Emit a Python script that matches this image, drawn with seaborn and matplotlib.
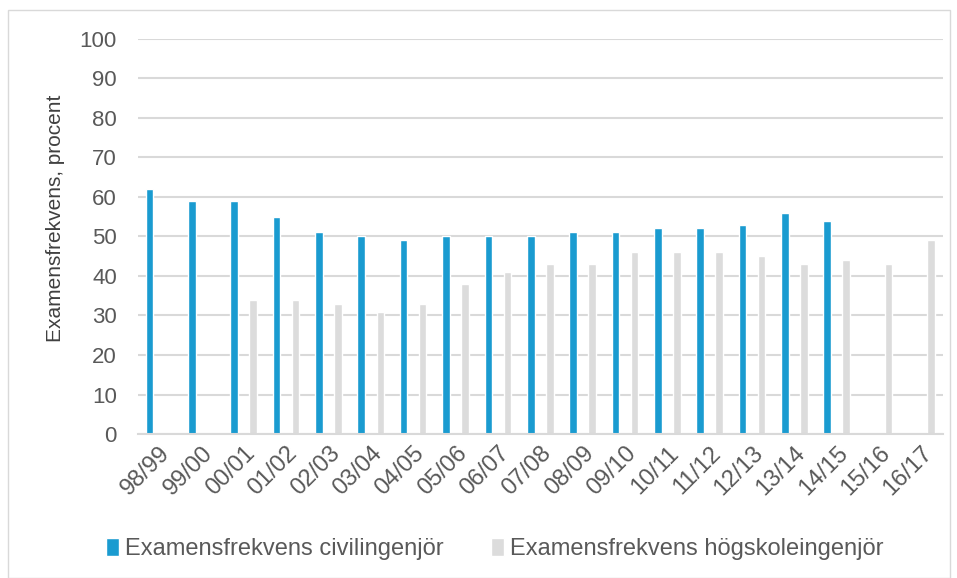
import matplotlib
matplotlib.use("Agg")
import matplotlib.pyplot as plt
from matplotlib.patches import Rectangle
import seaborn as sns
import numpy as np
import pandas as pd

# Data
years = ["98/99", "99/00", "00/01", "01/02", "02/03", "03/04", "04/05", "05/06", "06/07",
         "07/08", "08/09", "09/10", "10/11", "11/12", "12/13", "13/14", "14/15", "15/16", "16/17"]
civil = [62, 59, 59, 55, 51, 50, 49, 50, 50, 50, 51, 51, 52, 52, 53, 56, 54, np.nan, np.nan]
hogskole = [np.nan, np.nan, 34, 34, 33, 31, 33, 38, 41, 43, 43, 46, 46, 46, 45, 43, 44, 43, 49]
series = ["Examensfrekvens civilingenjör", "Examensfrekvens högskoleingenjör"]
colors = ["#1a9bd0", "#dcdcdc"]

df = pd.DataFrame({
    "year": years * 2,
    "value": civil + hogskole,
    "serie": [series[0]] * len(years) + [series[1]] * len(years),
})

sns.set_style("white")
plt.rcParams["font.family"] = ["Liberation Sans", "DejaVu Sans"]

fig = plt.figure(figsize=(9.57, 5.78), dpi=100)
ax = fig.add_axes([0.144, 0.249, 0.841, 0.684])

sns.barplot(data=df, x="year", y="value", hue="serie", order=years, hue_order=series,
            palette=colors, width=0.9, gap=0.6, saturation=1, ax=ax, legend=True)

ax.set_ylim(0, 100)
ax.set_yticks(range(0, 101, 10))
ax.set_xlim(-0.5, len(years) - 0.5)
ax.yaxis.grid(True, color="#d9d9d9", linewidth=1.5)
ax.set_axisbelow(True)
for s in ["top", "right", "left"]:
    ax.spines[s].set_visible(False)
ax.spines["bottom"].set_color("#d9d9d9")
ax.spines["bottom"].set_linewidth(1.5)
ax.tick_params(axis="both", length=0, colors="#595959", labelsize=16)
ax.tick_params(axis="x", labelsize=17, pad=6)
ax.tick_params(axis="y", pad=15)
plt.setp(ax.get_xticklabels(), rotation=45, ha="right", rotation_mode="anchor")
ax.set_xlabel("")
ax.set_ylabel("Examensfrekvens, procent", fontsize=15, color="#404040")
ax.yaxis.set_label_coords(-0.09, 0.545)

handles, labels = ax.get_legend_handles_labels()
ax.get_legend().remove()
fig.legend(handles, labels, loc="center", bbox_to_anchor=(0.517, 0.05), ncol=2,
           frameon=False, fontsize=17, handlelength=0.55, handleheight=0.75,
           handletextpad=0.25, columnspacing=2.0, labelcolor="#595959")

fig.patches.append(Rectangle((0.008, 0.0), 0.985, 0.982, transform=fig.transFigure,
                             fill=False, edgecolor="#d9d9d9", linewidth=1))

fig.savefig("out.png", dpi=100)
